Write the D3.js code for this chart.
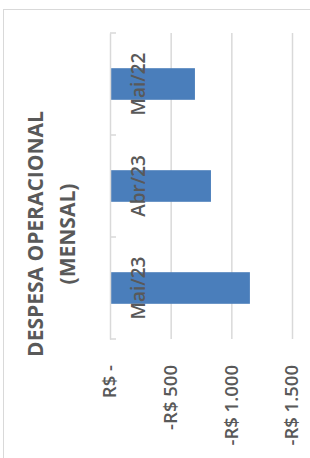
<!DOCTYPE html>
<html>
<head>
<meta charset="utf-8">
<script src="https://cdn.jsdelivr.net/npm/d3@7"></script>
<style>
  body { margin: 0; background: #fff; }
  svg { display: block; font-family: "Open Sans", sans-serif; }
</style>
</head>
<body>
<script>
// data (values are negative, shown as -R$)
const categories = ["Mai/22", "Abr/23", "Mai/23"];
const values = [-700, -832, -1153];
const tickValues = [0, -500, -1000, -1500];
const tickLabels = ["R$ -", "-R$ 500", "-R$ 1.000", "-R$ 1.500"];
const titleLines = ["DESPESA OPERACIONAL", "(MENSAL)"];

const W = 310, H = 458;
const margin = {top: 33, right: 18, bottom: 119, left: 110},
      width = W - margin.left - margin.right,
      height = H - margin.top - margin.bottom;

const svg = d3.select("body").append("svg")
    .attr("width", W)
    .attr("height", H);

// chart area border
svg.append("rect")
    .attr("x", 3.5)
    .attr("y", 9.5)
    .attr("width", W)
    .attr("height", H)
    .attr("fill", "none")
    .attr("stroke", "#d9d9d9");

const g = svg.append("g")
    .attr("transform", `translate(${margin.left},${margin.top})`);

// scales
const x = d3.scaleLinear()
    .domain([0, -1500])
    .range([0, width]);

const y = d3.scaleBand()
    .domain(categories)
    .range([0, height])
    .padding(0);

const barH = y.bandwidth() * 0.31;

// gridlines
g.append("g")
    .selectAll("line")
    .data(tickValues.slice(1))
    .join("line")
      .attr("x1", d => x(d) + 0.5)
      .attr("x2", d => x(d) + 0.5)
      .attr("y1", 0)
      .attr("y2", height)
      .attr("stroke", "#d9d9d9")
      .attr("stroke-width", 1.5);

// bars
g.append("g")
    .selectAll("rect")
    .data(values)
    .join("rect")
      .attr("x", x(0))
      .attr("y", (d, i) => y(categories[i]) + (y.bandwidth() - barH) / 2)
      .attr("width", d => x(d) - x(0))
      .attr("height", barH)
      .attr("fill", "#4a7ebb");

// category axis
const catAxis = g.append("g")
    .call(d3.axisLeft(y).tickSize(0).tickFormat(""));
catAxis.select(".domain").attr("stroke", "#d9d9d9").attr("stroke-width", 1.5);
catAxis.selectAll(".tick").remove();
catAxis.append("g")
    .selectAll("line")
    .data([0, ...categories.map(c => y(c) + y.bandwidth())])
    .join("line")
      .attr("x1", 0)
      .attr("x2", 6)
      .attr("y1", d => d)
      .attr("y2", d => d)
      .attr("stroke", "#d9d9d9")
      .attr("stroke-width", 1.5);

// category labels (rotated)
g.append("g")
    .selectAll("text")
    .data(categories)
    .join("text")
      .attr("transform", d => `translate(28,${y(d) + y.bandwidth() / 2}) rotate(-90)`)
      .attr("text-anchor", "middle")
      .attr("dy", "0.35em")
      .attr("fill", "#595959")
      .style("font-size", "19px")
      .style("font-weight", 600)
      .text(d => d);

// value axis labels (rotated)
g.append("g")
    .selectAll("text")
    .data(tickValues)
    .join("text")
      .attr("transform", d => `translate(${x(d)},${height + 26}) rotate(-90)`)
      .attr("text-anchor", "end")
      .attr("dy", "0.35em")
      .attr("fill", "#595959")
      .style("font-size", "18.5px")
      .style("font-weight", 600)
      .text((d, i) => tickLabels[i]);

// title (rotated, two lines)
svg.append("g")
    .selectAll("text")
    .data(titleLines)
    .join("text")
      .attr("transform", (d, i) => `translate(${36 + i * 32},234) rotate(-90)`)
      .attr("text-anchor", "middle")
      .attr("dy", "0.35em")
      .attr("fill", "#595959")
      .style("font-size", "21px")
      .style("font-weight", 700)
      .text(d => d);
</script>
</body>
</html>
